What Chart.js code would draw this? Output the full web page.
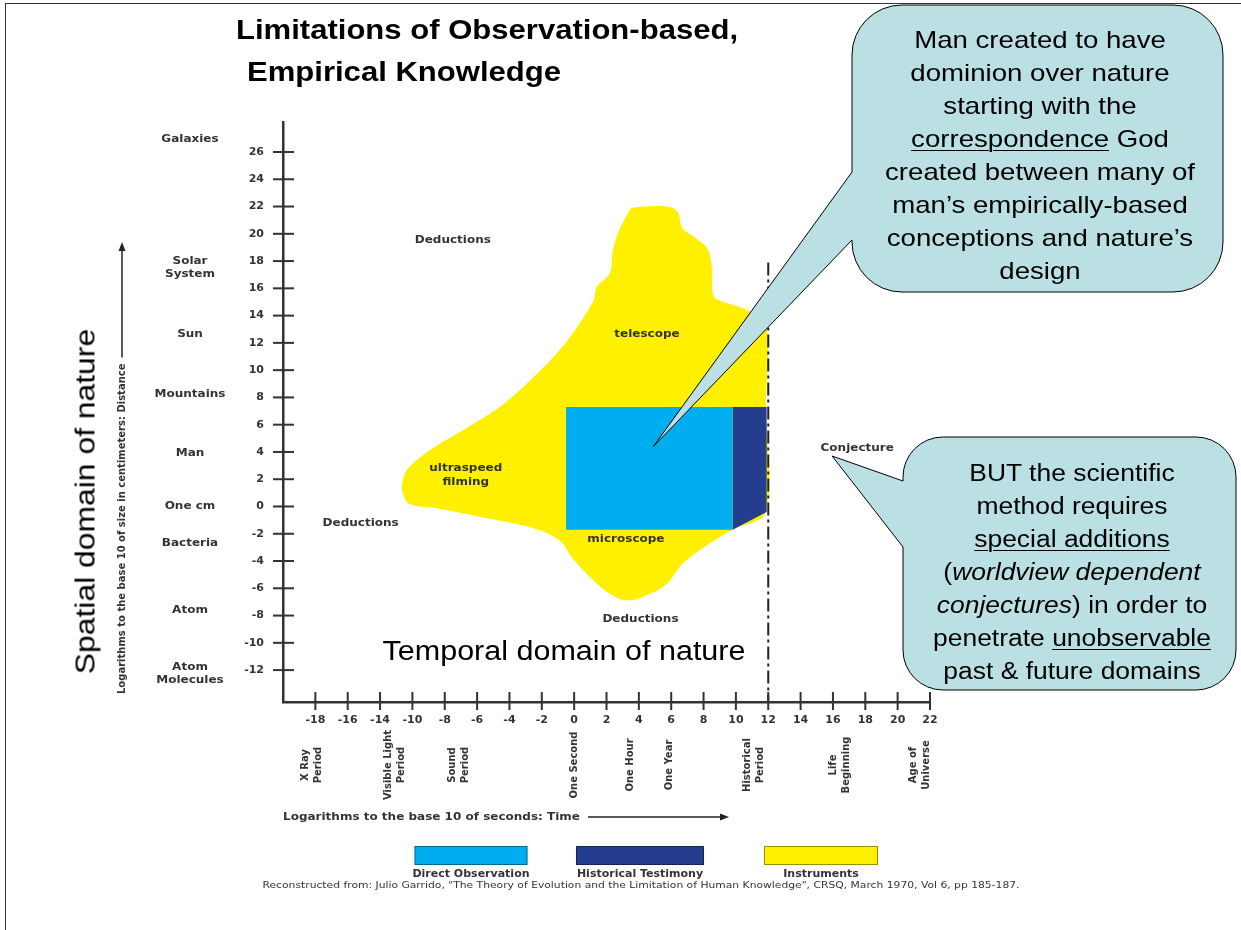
<!DOCTYPE html>
<html><head><meta charset="utf-8">
<script src="https://cdn.jsdelivr.net/npm/chart.js@4.4.1/dist/chart.umd.min.js"></script>
<style>
html,body{margin:0;padding:0;background:#fff;}
#wrap{position:relative;width:1241px;height:930px;overflow:hidden;background:#fff;}
#c{position:absolute;left:0;top:0;}
.t{position:absolute;font-family:'Liberation Sans',Arial,sans-serif;color:#000;white-space:nowrap;}
.u{text-decoration:underline;text-decoration-thickness:1px;text-underline-offset:3px;}
</style></head>
<body><div id="wrap">
<div style="position:absolute;left:5px;top:3px;width:1250px;height:940px;border-left:1.5px solid #333;border-top:1.5px solid #333;"></div>
<canvas id="c" width="1241" height="930"></canvas>
<div class="t" style="left:236px;top:17px;font-size:27px;font-weight:bold;line-height:27px;transform:scaleX(1.15);transform-origin:0 0;">Limitations of Observation-based,</div>
<div class="t" style="left:247px;top:59px;font-size:27px;font-weight:bold;line-height:27px;transform:scaleX(1.15);transform-origin:0 0;">Empirical Knowledge</div>
<div class="t" style="left:855px;top:23px;width:370px;text-align:center;font-size:24px;line-height:33px;transform:scaleX(1.15);transform-origin:50% 0;">Man created to have<br>dominion over nature<br>starting with the<br><span class="u">correspondence</span> God<br>created between many of<br>man’s empirically-based<br>conceptions and nature’s<br>design</div>
<div class="t" style="left:902px;top:457px;width:340px;text-align:center;font-size:23px;line-height:33px;transform:scaleX(1.15);transform-origin:50% 0;">BUT the scientific<br>method requires<br><span class="u">special additions</span><br>(<i>worldview dependent</i><br><i>conjectures</i>) in order to<br>penetrate <span class="u">unobservable</span><br>past &amp; future domains</div>
<div class="t" style="left:364px;top:638px;width:400px;text-align:center;font-size:27px;line-height:27px;transform:scaleX(1.13);transform-origin:50% 0;">Temporal domain of nature</div>
<div class="t" style="left:-114px;top:488px;width:400px;height:27px;text-align:center;font-size:27px;line-height:27px;transform:rotate(-90deg) scaleX(1.18);transform-origin:50% 50%;">Spatial domain of nature</div>
</div>
<script>
// ---- data ----
const xTickValues = [-16,-14,-12,-10,-8,-6,-4,-2,0,2,4,6,8,10,12,14,16,18,20,22];
const xTickLabels = ['-18','-16','-14','-10','-8','-6','-4','-2','0','2','4','6','8','10','12','14','16','18','20','22'];
const yTickValues = [-12,-10,-8,-6,-4,-2,0,2,4,6,8,10,12,14,16,18,20,22,24,26];

const sizeLabels = ['Galaxies','Solar\nSystem','Sun','Mountains','Man','One cm','Bacteria','Atom','Atom\nMolecules'];
const sizeValues = [26.9,17.5,12.6,8.2,3.9,0,-2.7,-7.6,-12.3];

const timeLabels = ['X Ray\nPeriod','Visible Light\nPeriod','Sound\nPeriod','One Second','One Hour','One Year','Historical\nPeriod','Life\nBeginning','Age of\nUniverse'];
const timeValues = [-16.2,-11.1,-7.1,0,3.5,5.9,11.1,16.4,21.4];

const instrumentsX = [3.5,4.4,5.8,6.4,6.7,7.5,8.2,8.5,8.6,9.0,10.7,11.85,11.85,11.85,9.8,8.0,6.7,5.7,4.5,3.3,2.2,1.0,-0.1,-0.9,-2.5,-5.6,-8.7,-10.2,-10.6,-10.6,-10.2,-8.7,-6.6,-4.6,-2.5,-0.4,1.2,1.4,2.2,2.4,2.8,3.5];
const instrumentsY = [21.9,22.0,22.0,21.6,20.4,19.7,19.0,17.7,15.5,15.1,14.4,13.4,7.3,-0.4,-1.7,-3.0,-4.2,-5.7,-6.5,-6.9,-6.4,-5.2,-3.8,-2.5,-1.6,-0.8,-0.1,0.2,1.0,1.9,2.9,4.3,5.8,7.3,9.5,12.2,15.1,16.1,17.1,18.8,20.3,21.9];

const directX = [-0.5,9.8,9.8,-0.5,-0.5];
const directY = [7.3,7.3,-1.7,-1.7,7.3];

const historicalX = [9.8,11.9,11.9,9.8,9.8];
const historicalY = [7.3,7.3,-0.4,-1.7,7.3];

const limitX = [12,12];
const limitY = [17.9,-14.34];

const noteLabels = ['Deductions','telescope','ultraspeed\nfilming','Deductions','microscope','Deductions','Conjecture'];
const noteX = [-7.5,4.5,-6.7,-13.2,3.2,4.1,17.5];
const noteY = [19.5,12.6,2.3,-1.25,-2.4,-8.3,4.25];

// ---- helpers ----
const pts = (xs, ys) => xs.map((x, i) => ({x, y: ys[i]}));

function drawLabel(ctx, text, x, y, o) {
  const lines = String(text).split('\n');
  const lh = o.lineHeight || 13;
  ctx.save();
  ctx.translate(x, y);
  if (o.rotate) ctx.rotate(o.rotate);
  ctx.scale(o.sx || 1, 1);
  ctx.font = o.font;
  ctx.fillStyle = o.color || '#333';
  ctx.textAlign = o.align || 'center';
  ctx.textBaseline = 'middle';
  lines.forEach((l, i) => ctx.fillText(l, 0, (i - (lines.length - 1) / 2) * lh));
  ctx.restore();
}
function arrow(ctx, x1, y1, x2, y2) {
  const a = Math.atan2(y2 - y1, x2 - x1), h = 9, w = 3.5;
  ctx.save();
  ctx.strokeStyle = '#222'; ctx.fillStyle = '#222'; ctx.lineWidth = 1.5;
  ctx.beginPath(); ctx.moveTo(x1, y1); ctx.lineTo(x2 - h * Math.cos(a), y2 - h * Math.sin(a)); ctx.stroke();
  ctx.beginPath();
  ctx.moveTo(x2, y2);
  ctx.lineTo(x2 - h * Math.cos(a) + w * Math.sin(a), y2 - h * Math.sin(a) - w * Math.cos(a));
  ctx.lineTo(x2 - h * Math.cos(a) - w * Math.sin(a), y2 - h * Math.sin(a) + w * Math.cos(a));
  ctx.closePath(); ctx.fill();
  ctx.restore();
}

const SMALL = 'bold 10px "DejaVu Sans"';
const SX = 1.2;

const callouts = [
  {box: [852, 5, 1223, 292], r: 50, base: [172, 240], tip: {x: 4.9, y: 4.4}},
  {box: [903, 437, 1236, 690], r: 40, base: [481, 547], tip: {x: 15.95, y: 3.7}}
];
const legendBoxes = [{cx: 471, w: 113}, {cx: 640, w: 128}, {cx: 821, w: 114}];

const overlay = {
  id: 'overlay',
  afterDraw(chart) {
    const {ctx, scales: {x, y}} = chart;
    // tick marks crossing the axes
    ctx.save();
    ctx.strokeStyle = '#333'; ctx.lineWidth = 2;
    yTickValues.forEach(v => { const p = y.getPixelForValue(v); ctx.beginPath(); ctx.moveTo(x.left - 10, p); ctx.lineTo(x.left + 11, p); ctx.stroke(); });
    xTickValues.forEach(v => { const p = x.getPixelForValue(v); ctx.beginPath(); ctx.moveTo(p, y.bottom - 10); ctx.lineTo(p, y.bottom + 8); ctx.stroke(); });
    ctx.restore();

    // size category labels
    sizeLabels.forEach((s, i) => drawLabel(ctx, s, 190, y.getPixelForValue(sizeValues[i]), {font: SMALL, sx: SX, lineHeight: 13}));
    // time category labels (rotated)
    timeLabels.forEach((s, i) => drawLabel(ctx, s, x.getPixelForValue(timeValues[i]), 765, {font: SMALL, rotate: -Math.PI / 2, lineHeight: 13}));
    // notes in the plot
    noteLabels.forEach((s, i) => drawLabel(ctx, s, x.getPixelForValue(noteX[i]), y.getPixelForValue(noteY[i]), {font: SMALL, sx: SX, lineHeight: 14}));

    // axis titles with arrows
    const YF = 'bold 10px "DejaVu Sans"';
    ctx.save(); ctx.font = YF;
    const yt = 'Logarithms to the base 10 of size in centimeters: Distance';
    const yw = ctx.measureText(yt).width; ctx.restore();
    drawLabel(ctx, yt, 122, 694, {font: YF, rotate: -Math.PI / 2, align: 'left'});
    arrow(ctx, 122, 694 - yw - 6, 122, 242);

    ctx.save(); ctx.font = SMALL;
    const xt = 'Logarithms to the base 10 of seconds: Time';
    const xw = ctx.measureText(xt).width * SX; ctx.restore();
    drawLabel(ctx, xt, 283, 817, {font: SMALL, sx: SX, align: 'left'});
    arrow(ctx, 283 + xw + 8, 817, 729, 817);

    // legend (boxes above, labels below)
    chart.data.datasets.slice(0, 3).forEach((ds, i) => {
      const b = legendBoxes[i];
      ctx.save();
      ctx.fillStyle = ds.backgroundColor; ctx.strokeStyle = 'rgba(0,0,0,0.4)'; ctx.lineWidth = 1;
      ctx.fillRect(b.cx - b.w / 2, 846, b.w, 19);
      ctx.strokeRect(b.cx - b.w / 2 + 0.5, 846.5, b.w - 1, 18);
      ctx.restore();
      drawLabel(ctx, ds.label, b.cx, 874, {font: SMALL, sx: 1.1});
    });
    // source line
    const src = 'Reconstructed from: Julio Garrido, "The Theory of Evolution and the Limitation of Human Knowledge", CRSQ, March 1970, Vol 6, pp 185-187.';
    ctx.save(); ctx.font = '8px "DejaVu Sans"'; const sw = ctx.measureText(src).width; ctx.restore();
    drawLabel(ctx, src, 641, 886, {font: '8px "DejaVu Sans"', sx: 757 / sw, color: '#333'});

    // callout balloons
    callouts.forEach(c => {
      const [L, T, R, B] = c.box, r = c.r;
      const tx = x.getPixelForValue(c.tip.x), ty = y.getPixelForValue(c.tip.y);
      ctx.save();
      ctx.beginPath();
      ctx.moveTo(L + r, T); ctx.lineTo(R - r, T); ctx.arcTo(R, T, R, T + r, r);
      ctx.lineTo(R, B - r); ctx.arcTo(R, B, R - r, B, r);
      ctx.lineTo(L + r, B); ctx.arcTo(L, B, L, B - r, r);
      ctx.lineTo(L, c.base[1]); ctx.lineTo(tx, ty); ctx.lineTo(L, c.base[0]);
      ctx.lineTo(L, T + r); ctx.arcTo(L, T, L + r, T, r);
      ctx.closePath();
      ctx.fillStyle = '#BAE0E3'; ctx.fill();
      ctx.strokeStyle = '#000'; ctx.lineWidth = 1; ctx.stroke();
      ctx.restore();
    });
  }
};

const fillDs = (label, xs, ys, color, tension) => ({
  label, data: pts(xs, ys), backgroundColor: color, borderColor: 'rgba(0,0,0,0)', borderWidth: 1,
  fill: 'shape', tension, pointRadius: 0
});

new Chart(document.getElementById('c'), {
  type: 'line',
  data: {
    datasets: [
      fillDs('Direct Observation', directX, directY, '#00AEEF', 0),
      fillDs('Historical Testimony', historicalX, historicalY, '#253D8D', 0),
      fillDs('Instruments', instrumentsX, instrumentsY, '#FFF000', 0.35),
      {label: 'Limit of history', data: pts(limitX, limitY), borderColor: '#222', borderWidth: 2,
       borderDash: [13, 4, 3, 4], fill: false, pointRadius: 0, order: -1}
    ]
  },
  options: {
    responsive: false, animation: false, events: [],
    layout: {padding: {left: 0, top: 122, right: 311, bottom: 0}},
    plugins: {legend: {display: false}, tooltip: {enabled: false}, title: {display: false}},
    scales: {
      x: {
        type: 'linear', min: -18, max: 22,
        afterFit(s) { s.height = 228; },
        afterBuildTicks(s) { s.ticks = xTickValues.map(v => ({value: v})); },
        ticks: {callback: v => { const i = xTickValues.indexOf(v); return i < 0 ? '' : xTickLabels[i]; },
                font: {family: 'DejaVu Sans', size: 11, weight: 'bold'}, color: '#333', padding: 2, maxRotation: 0, autoSkip: false},
        grid: {drawOnChartArea: false, drawTicks: true, tickLength: 10, color: 'rgba(0,0,0,0)'},
        border: {display: true, color: '#333', width: 2.5}
      },
      y: {
        type: 'linear', min: -14.34, max: 28.2,
        afterFit(s) { s.width = 283; },
        afterBuildTicks(s) { s.ticks = yTickValues.map(v => ({value: v})); },
        ticks: {font: {family: 'DejaVu Sans', size: 11, weight: 'bold'}, color: '#333', padding: 9, autoSkip: false},
        grid: {drawOnChartArea: false, drawTicks: true, tickLength: 10, color: 'rgba(0,0,0,0)'},
        border: {display: true, color: '#333', width: 2.5}
      }
    }
  },
  plugins: [overlay]
});
</script>
</body></html>
